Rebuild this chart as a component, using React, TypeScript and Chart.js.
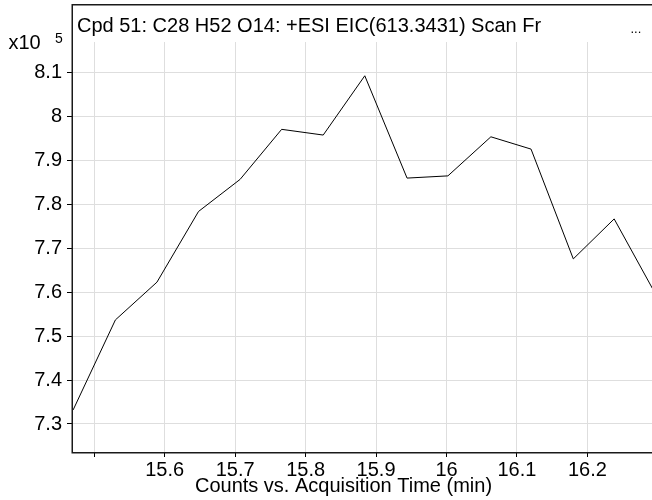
import React, { useEffect, useRef } from 'react';
import { Chart, registerables } from 'chart.js';

Chart.register(...registerables);

// Retention time (min) of each scan
const times = [15.470, 15.530, 15.589, 15.648, 15.707, 15.766, 15.825, 15.884, 15.944, 16.002, 16.063, 16.120, 16.180, 16.238, 16.297];
// Counts in units of 10^5
const counts = [7.332, 7.537, 7.623, 7.784, 7.857, 7.971, 7.958, 8.093, 7.860, 7.865, 7.954, 7.926, 7.676, 7.767, 7.595];

const chartTitle = 'Cpd 51: C28 H52 O14: +ESI EIC(613.3431) Scan Fr';
const xAxisTitle = 'Counts vs. Acquisition Time (min)';
const yMultiplier = 'x10';
const yExponent = '5';
const ellipsis = '...';

const FONT = '"Liberation Sans", Arial, sans-serif';

const overlay = {
  id: 'overlay',
  afterDraw(chart: any) {
    const ctx = chart.ctx as CanvasRenderingContext2D;
    const a = chart.chartArea;
    ctx.save();
    // frame: top border, left axis, bottom axis
    ctx.strokeStyle = '#1a1a1a';
    ctx.lineWidth = 1.5;
    ctx.beginPath();
    ctx.moveTo(a.left, 4.75);
    ctx.lineTo(chart.width, 4.75);
    ctx.stroke();
    ctx.beginPath();
    ctx.moveTo(a.left + 0.25, 4);
    ctx.lineTo(a.left + 0.25, a.bottom + 0.75);
    ctx.lineTo(chart.width, a.bottom + 0.75);
    ctx.stroke();

    ctx.fillStyle = '#000';
    ctx.textBaseline = 'alphabetic';
    ctx.textAlign = 'left';
    ctx.font = `20px ${FONT}`;
    ctx.fillText(chartTitle, 77, 32);
    ctx.fillText(yMultiplier, 8.5, 48.5);
    ctx.font = `14px ${FONT}`;
    ctx.fillText(yExponent, 55, 43);
    ctx.font = `13px ${FONT}`;
    ctx.fillText(ellipsis, 630.5, 32.5);
    ctx.font = `20px ${FONT}`;
    ctx.textAlign = 'center';
    ctx.fillText(xAxisTitle, 343.5, 491.5);
    ctx.restore();
  },
};

function fmt(v: number) {
  return String(Number(Number(v).toFixed(2)));
}

export default function App() {
  const ref = useRef<HTMLCanvasElement>(null);
  useEffect(() => {
    if (!ref.current) return;
    const chart = new Chart(ref.current, {
      type: 'line',
      data: {
        datasets: [
          {
            data: times.map((t, i) => ({ x: t, y: counts[i] })),
            borderColor: '#000',
            borderWidth: 1,
            pointRadius: 0,
            tension: 0,
            fill: false,
          },
        ],
      },
      options: {
        responsive: false,
        animation: false,
        devicePixelRatio: 1,
        layout: { padding: { top: 42, right: 0, left: 0, bottom: 0 } },
        plugins: { legend: { display: false }, tooltip: { enabled: false }, title: { display: false } },
        scales: {
          x: {
            type: 'linear',
            min: 15.4684,
            max: 16.2917,
            afterFit: (s: any) => { s.height = 48; },
            border: { display: false },
            grid: { color: '#dedede', lineWidth: 1, tickColor: '#000', tickLength: 5, drawTicks: true },
            ticks: {
              stepSize: 0.1,
              includeBounds: false,
              autoSkip: false,
              maxRotation: 0,
              padding: 1,
              color: '#000',
              font: { family: FONT, size: 20 },
              callback: (v: any) => (Number(v) < 15.55 ? '' : fmt(Number(v))),
            },
          },
          y: {
            type: 'linear',
            min: 7.2362,
            max: 8.1699,
            afterFit: (s: any) => { s.width = 72; },
            border: { display: false },
            grid: { color: '#dedede', lineWidth: 1, tickColor: '#000', tickLength: 5, drawTicks: true },
            ticks: {
              stepSize: 0.1,
              includeBounds: false,
              autoSkip: false,
              padding: 5,
              color: '#000',
              font: { family: FONT, size: 20 },
              callback: (v: any) => fmt(Number(v)),
            },
          },
        },
      },
      plugins: [overlay],
    } as any);
    return () => chart.destroy();
  }, []);
  return (
    <div style={{ position: 'absolute', left: 0, top: 0, width: 652, height: 500, background: '#fff' }}>
      <canvas ref={ref} width={652} height={500} style={{ display: 'block' }} />
    </div>
  );
}
